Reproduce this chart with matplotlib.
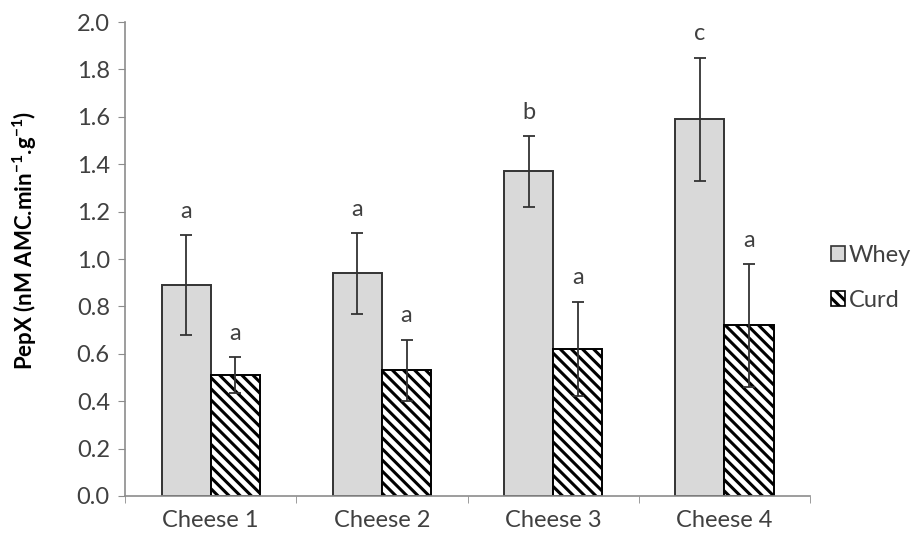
import matplotlib
matplotlib.use("Agg")
import matplotlib.pyplot as plt
import numpy as np
from matplotlib.patches import Patch

categories = ["Cheese 1", "Cheese 2", "Cheese 3", "Cheese 4"]
whey = [0.89, 0.94, 1.37, 1.59]
whey_err = [0.21, 0.17, 0.15, 0.26]
curd = [0.51, 0.53, 0.62, 0.72]
curd_err = [0.075, 0.13, 0.20, 0.26]
whey_letters = ["a", "a", "b", "c"]
curd_letters = ["a", "a", "a", "a"]
yticks = [0.0, 0.2, 0.4, 0.6, 0.8, 1.0, 1.2, 1.4, 1.6, 1.8, 2.0]

plt.rcParams["font.family"] = ["Lato", "DejaVu Sans"]
plt.rcParams["mathtext.fontset"] = "custom"
plt.rcParams["mathtext.rm"] = "Lato:bold"
plt.rcParams["mathtext.default"] = "rm"
plt.rcParams["hatch.linewidth"] = 2.2
plt.rcParams["hatch.color"] = "black"

fig = plt.figure(figsize=(9.14, 5.41), dpi=100)
ax = fig.add_axes([0.1368, 0.0832, 0.7495, 0.8761])

x = np.arange(len(categories))
w = 0.287
text_col = "#404040"
err_kw = dict(ecolor="#333333", elinewidth=1.3, capsize=4.5, capthick=1.3)

ax.bar(x - w / 2, whey, w, color="#d9d9d9", edgecolor="#333333", linewidth=1.4,
       yerr=whey_err, error_kw=err_kw, zorder=2)
ax.bar(x + w / 2, curd, w, color="white", edgecolor="black", linewidth=1.4,
       hatch="\\\\\\", yerr=curd_err, error_kw=err_kw, zorder=2)

for xi, v, e, t in zip(x - w / 2, whey, whey_err, whey_letters):
    ax.text(xi, v + e + 0.1, t, ha="center", va="center", fontsize=17, color=text_col)
for xi, v, e, t in zip(x + w / 2, curd, curd_err, curd_letters):
    ax.text(xi, v + e + 0.1, t, ha="center", va="center", fontsize=17, color=text_col)

ax.set_xlim(-0.5, len(categories) - 0.5)
ax.set_ylim(0, 2.0)
ax.set_yticks(yticks)
ax.set_yticklabels([f"{t:.1f}" for t in yticks])
ax.set_xticks(x)
ax.set_xticklabels(categories)
ax.set_xticks(np.arange(len(categories) + 1) - 0.5, minor=True)

for s in ["top", "right"]:
    ax.spines[s].set_visible(False)
for s in ["left", "bottom"]:
    ax.spines[s].set_color("#8c8c8c")
    ax.spines[s].set_linewidth(1.2)

ax.tick_params(axis="y", length=5, color="#8c8c8c", labelsize=17, labelcolor=text_col, pad=6)
ax.tick_params(axis="x", which="major", length=0, labelsize=17, labelcolor=text_col, pad=10)
ax.tick_params(axis="x", which="minor", length=5, color="#8c8c8c")

ax.set_ylabel(r"PepX (nM AMC.min$^{-1}$.g$^{-1}$)", fontsize=16,
              fontweight="bold", color="black")
ax.yaxis.set_label_coords(-0.126, 0.54)

handles = [Patch(facecolor="#d9d9d9", edgecolor="#333333", linewidth=1.2, label="Whey"),
           Patch(facecolor="white", edgecolor="black", linewidth=1.2, hatch="\\\\\\", label="Curd")]
fig.legend(handles=handles, loc="center left", bbox_to_anchor=(0.896, 0.486),
           frameon=False, fontsize=17, handlelength=0.6, handleheight=0.6,
           handletextpad=0.15, labelspacing=1.0, labelcolor=text_col, borderpad=0)

fig.savefig("out.png", dpi=100)
